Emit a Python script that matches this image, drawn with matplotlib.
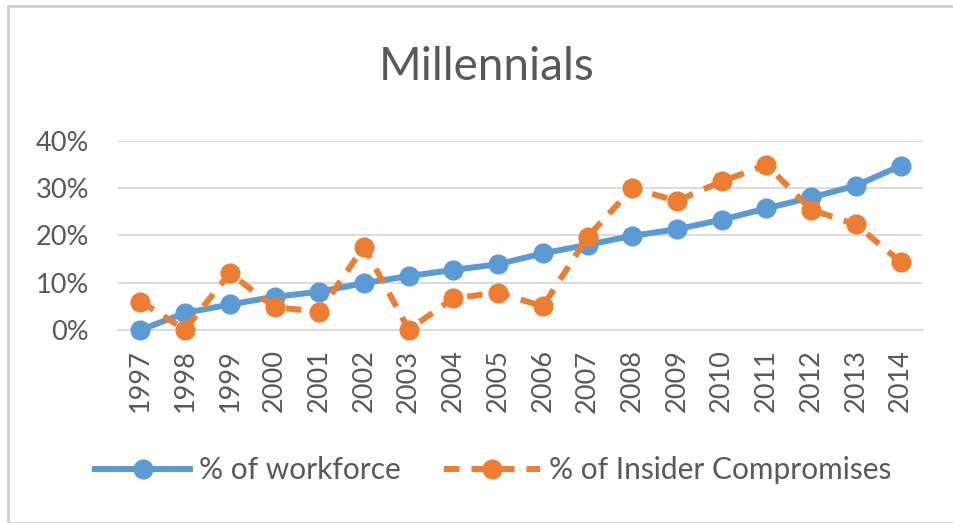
import matplotlib
matplotlib.use("Agg")
import matplotlib.pyplot as plt
from matplotlib.patches import Rectangle

years = [str(y) for y in range(1997, 2015)]
workforce = [0.0, 3.6, 5.4, 7.0, 8.1, 9.9, 11.4, 12.7, 13.9, 16.2, 18.0, 19.9, 21.3, 23.3, 25.7, 28.0, 30.5, 34.7]
insider = [6.0, 0.1, 12.0, 4.8, 3.9, 17.6, 0.1, 6.7, 7.9, 5.0, 19.7, 29.9, 27.3, 31.4, 34.9, 25.4, 22.3, 14.4]
yticks = [0, 10, 20, 30, 40]
ytick_labels = ["0%", "10%", "20%", "30%", "40%"]

plt.rcParams['font.family'] = ['Lato', 'DejaVu Sans']
W, H = 954, 523
fig = plt.figure(figsize=(W / 100, H / 100), dpi=100)
fig.patch.set_facecolor('white')
fig.patches.append(Rectangle((8 / W, 0.0), 1 - 8 / W, 1 - 6 / H, transform=fig.transFigure,
                             fill=False, edgecolor='#d0d0d0', linewidth=2))

ax = fig.add_axes([118 / W, 1 - 330 / H, 805 / W, (330 - 140.7) / H])
x = range(len(years))
blue = '#5b9bd5'
orange = '#ed7d31'
ax.plot(x, workforce, color=blue, lw=4.3, marker='o', ms=13.5, label='% of workforce', zorder=3,
        clip_on=False)
ax.plot(x, insider, color=orange, lw=4.3, marker='o', ms=13.5, linestyle=(0, (2.6, 2.0)),
        label='% of Insider Compromises', zorder=4, clip_on=False)

ax.set_xlim(-0.5, len(years) - 0.5)
ax.set_ylim(0, 40)
ax.set_yticks(yticks)
ax.set_yticklabels(ytick_labels)
ax.set_xticks(list(x))
ax.set_xticklabels(years, rotation=90)
ax.tick_params(axis='both', length=0, labelsize=19.5, colors='#595959')
ax.tick_params(axis='x', pad=14)
ax.tick_params(axis='y', pad=21)
ax.grid(axis='y', color='#d9d9d9', lw=1.3)
ax.set_axisbelow(True)
for s in ['top', 'right', 'left']:
    ax.spines[s].set_visible(False)
ax.spines['bottom'].set_color('#d9d9d9')
ax.spines['bottom'].set_linewidth(1.3)

fig.text(487 / W, 1 - 67 / H, 'Millennials', ha='center', va='center', fontsize=33, color='#595959')

leg = fig.legend(loc='center', bbox_to_anchor=(493 / W, 1 - 470 / H), ncol=2, frameon=False,
                 fontsize=21.5, handlelength=3.2, columnspacing=1.45, handletextpad=0.3,
                 labelcolor='#595959')

fig.savefig('out.png', dpi=100, facecolor='white')
